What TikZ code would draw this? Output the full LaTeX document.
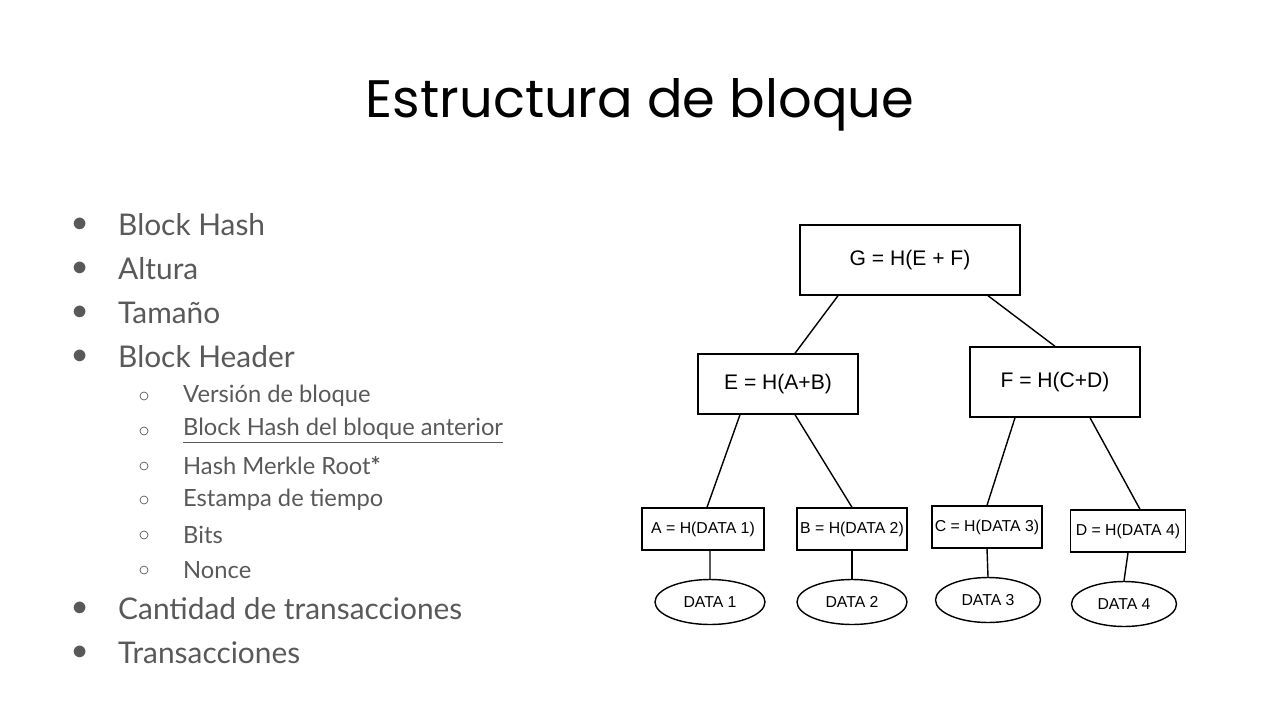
\documentclass[tikz,border=0pt]{standalone}
\usepackage{fontspec}
\setmainfont{Lato}
\newfontfamily\titlefont{Poppins}
\newfontfamily\handfont{Liberation Sans}
\usetikzlibrary{positioning,shapes.geometric}
\definecolor{itemgray}{HTML}{595959}
\tikzset{
  hashbox/.style={draw, thick, font=\handfont\large, inner sep=2pt},
  smallbox/.style={draw, thick, font=\handfont\small, minimum height=0.84cm, inner sep=1pt},
  leaf/.style={draw, thick, ellipse, font=\handfont\small, minimum width=2.2cm, minimum height=0.9cm},
  item/.style={anchor=west, text=itemgray, font=\fontsize{17}{20}\selectfont},
  subitem/.style={anchor=west, text=itemgray, font=\fontsize{13.5}{16}\selectfont},
  dot/.style={text=itemgray, font=\fontsize{17}{20}\selectfont},
  ring/.style={draw=itemgray, circle, minimum size=0.16cm, inner sep=0pt}
}
\begin{document}
\begin{tikzpicture}[x=0.02cm,y=-0.02cm]
\useasboundingbox (0,0) rectangle (1280,720);
\node[font=\titlefont\fontsize{30}{34}\selectfont] (title) at (640,105) {Estructura de bloque};

% list on the left
\foreach \y/\t in {225/Block Hash, 269/Altura, 313/Tama\~no, 357/Block Header,
                   609/Cantidad de transacciones, 653/Transacciones}{
  \node[dot] at (80,\y) {$\bullet$};
  \node[item] at (112,\y) {\t};
}
\foreach \y/\t in {396/Versi\'on de bloque, 431/\underline{Block Hash del bloque anterior},
                   466/Hash Merkle Root\textbf{*}, 500/Estampa de tiempo, 535/Bits, 570/Nonce}{
  \node[ring] at (144,\y) {};
  \node[subitem] at (177,\y) {\t};
}

% merkle tree
\node[hashbox, minimum width=4.4cm, minimum height=1.4cm] (G) at (910,260) {G = H(E + F)};
\node[hashbox, minimum width=3.2cm, minimum height=1.2cm] (E) at (778,384) {E = H(A+B)};
\node[hashbox, minimum width=3.4cm, minimum height=1.4cm] (F) at (1055,382) {F = H(C+D)};
\node[smallbox, minimum width=2.44cm] (A) at (703,529) {A = H(DATA 1)};
\node[smallbox, minimum width=2.2cm] (B) at (852,529) {B = H(DATA 2)};
\node[smallbox, minimum width=2.2cm] (C) at (987,527) {C = H(DATA 3)};
\node[smallbox, minimum width=2.3cm] (D) at (1128,531) {D = H(DATA 4)};
\node[leaf] (d1) at (710,602) {DATA 1};
\node[leaf] (d2) at (852,602) {DATA 2};
\node[leaf, minimum width=2.1cm] (d3) at (988,600) {DATA 3};
\node[leaf, minimum width=2.1cm] (d4) at (1124,604) {DATA 4};

\draw[thick] ([xshift=-1.44cm]G.south) -- ([xshift=0.34cm]E.north);
\draw[thick] ([xshift=1.56cm]G.south) -- (F.north);
\draw[thick] ([xshift=-0.76cm]E.south) -- ([xshift=0.08cm]A.north);
\draw[thick] ([xshift=0.34cm]E.south) -- (B.north);
\draw[thick] ([xshift=-0.8cm]F.south) -- (C.north);
\draw[thick] ([xshift=0.7cm]F.south) -- ([xshift=0.24cm]D.north);
\draw[thick] ([xshift=0.14cm]A.south) -- (d1.north);
\draw[thick] (B.south) -- (d2.north);
\draw[thick] (C.south) -- (d3.north);
\draw[thick] (D.south) -- (d4.north);
\end{tikzpicture}
\end{document}
